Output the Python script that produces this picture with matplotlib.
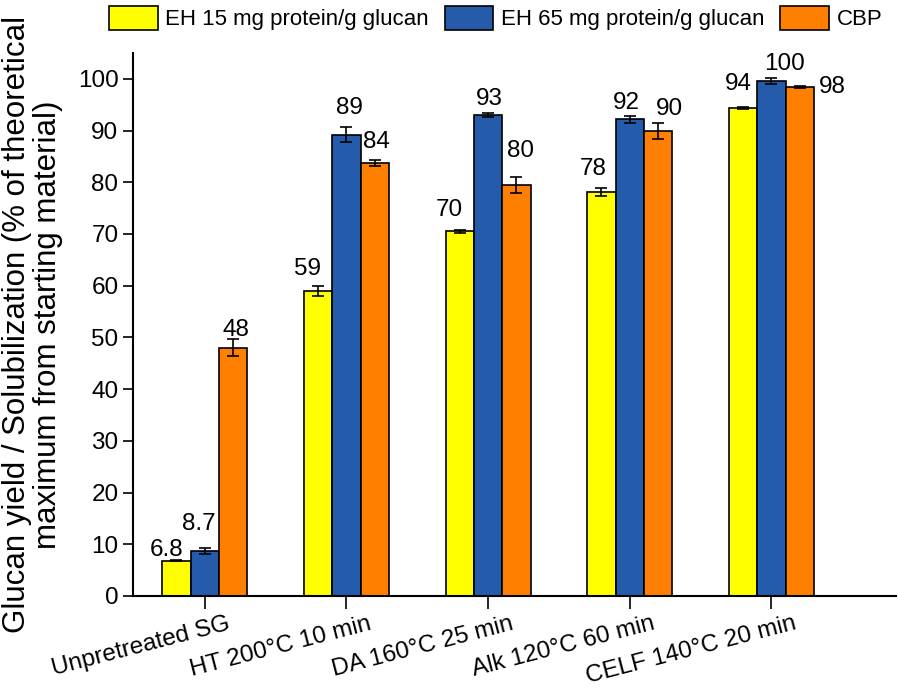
import matplotlib
matplotlib.use("Agg")
import matplotlib.pyplot as plt
import numpy as np

plt.rcParams['font.family'] = ['Liberation Sans', 'DejaVu Sans']

categories = ["Unpretreated SG", "HT 200°C 10 min", "DA 160°C 25 min",
              "Alk 120°C 60 min", "CELF 140°C 20 min"]
series_names = ["EH 15 mg protein/g glucan", "EH 65 mg protein/g glucan", "CBP"]
eh15 = [6.8, 59.0, 70.5, 78.1, 94.4]
eh15_err = [0.1, 1.0, 0.25, 0.7, 0.2]
eh65 = [8.7, 89.2, 93.0, 92.2, 99.6]
eh65_err = [0.5, 1.45, 0.45, 0.7, 0.5]
cbp = [48.0, 83.7, 79.5, 89.9, 98.4]
cbp_err = [1.6, 0.6, 1.6, 1.5, 0.2]
labels_eh15 = ["6.8", "59", "70", "78", "94"]
labels_eh65 = ["8.7", "89", "93", "92", "100"]
labels_cbp = ["48", "84", "80", "90", "98"]

colors = ["#FFFF00", "#245BAA", "#FF7F00"]
# label offsets in pixels (dx, dy) relative to top of error bar
offs = [
    [(-10, 4), (-11, 11), (-10, 14), (-8, 13), (-5, 17)],
    [(-6, 18), (3, 13), (1, 8), (-3, 7), (13, 8)],
    [(3, 3), (2, 12), (4, 20), (11, 8), (33, -7)],
]

fig = plt.figure(figsize=(8.98, 6.99), dpi=100)
ax = fig.add_axes([133/898, 1-596/699, (896-133)/898, (596-53)/699])

x = np.arange(len(categories))
w = 0.2
data = [(eh15, eh15_err, labels_eh15), (eh65, eh65_err, labels_eh65), (cbp, cbp_err, labels_cbp)]
handles = []
for i, (vals, errs, labs) in enumerate(data):
    pos = x + (i - 1) * w
    b = ax.bar(pos, vals, w, color=colors[i], edgecolor='black', linewidth=1.2,
               label=series_names[i], zorder=2)
    ax.errorbar(pos, vals, yerr=errs, fmt='none', ecolor='black', elinewidth=1.2,
                capsize=4, capthick=1.2, zorder=3)
    handles.append(b)
    for j in range(len(vals)):
        dx, dy = offs[i][j]
        ax.annotate(labs[j], (pos[j], vals[j] + errs[j]),
                    xytext=(dx * 0.72, dy * 0.72), textcoords='offset points',
                    ha='center', va='baseline', fontsize=17.5)

ax.set_xlim(-0.507, 4.88)
ax.set_ylim(0, 105)
ax.set_yticks(np.arange(0, 101, 10))
# major ticks carry the marks, minor ticks (slightly shifted) carry the labels
ax.set_xticks(x)
ax.set_xticklabels([])
ax.set_xticks(x + 0.155, minor=True)
ax.set_xticklabels(categories, minor=True, rotation=14.5, ha='right',
                   rotation_mode='anchor', fontsize=17.5)
ax.tick_params(axis='x', which='minor', length=0, pad=12)
ax.tick_params(axis='y', labelsize=17.5, direction='out', length=7, width=1.2)
ax.tick_params(axis='x', which='major', direction='out', length=9, width=1.2)
for s in ['top', 'right']:
    ax.spines[s].set_visible(False)
for s in ['left', 'bottom']:
    ax.spines[s].set_linewidth(1.5)

ax.set_ylabel("Glucan yield / Solubilization (% of theoretical\nmaximum from starting material)",
              fontsize=22.5, linespacing=1.05)
ax.yaxis.set_label_coords(-0.092, 0.5)

fig.legend(handles=handles, labels=series_names, loc='center', bbox_to_anchor=(0.552, 0.974),
           ncol=3, frameon=False, fontsize=16, handlelength=2.2, handleheight=1.3,
           handletextpad=0.35, columnspacing=0.7, borderpad=0)

fig.savefig("out.png", dpi=100)
